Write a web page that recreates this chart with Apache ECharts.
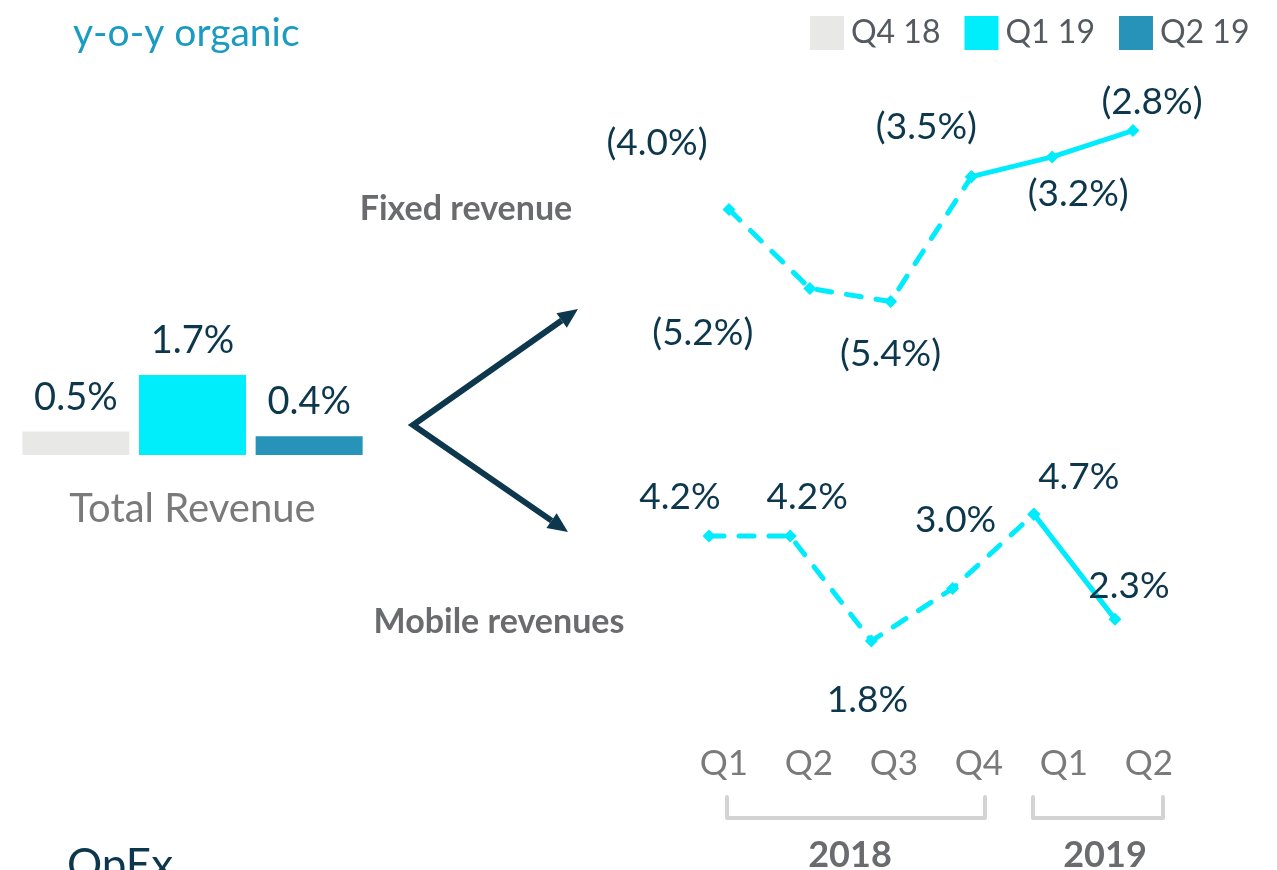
<!DOCTYPE html>
<html>
<head>
<meta charset="utf-8">
<title>y-o-y organic revenue</title>
<script src="https://cdn.jsdelivr.net/npm/echarts@6/dist/echarts.min.js"></script>
<style>
  html, body { margin: 0; padding: 0; background: #fff; }
  #chart { width: 1277px; height: 870px; }
</style>
</head>
<body>
<div id="chart"></div>
<script>
// values
const quarters = ['Q1', 'Q2', 'Q3', 'Q4', 'Q1', 'Q2']
const totalCategories = ['Total Revenue']
const totalSeriesNames = ['Q4 18', 'Q1 19', 'Q2 19']
const totalValues = [0.5, 1.7, 0.4]
const fixedValues = [-4.0, -5.2, -5.4, -3.5, -3.2, -2.8]
const mobileValues = [4.2, 4.2, 1.8, 3.0, 4.7, 2.3]

// first index drawn as a solid (reported) line
const fixedSolidFrom = 3
const mobileSolidFrom = 4

// label placement around each point, [dx, dy] in px
const fixedLabelOffsets = [[-72, -66], [-107, 45], [0, 53], [-45, -50], [26, 37], [19, -29]]
const mobileLabelOffsets = [[-29, -39], [17, -39], [-4, 59], [3, -68], [45, -37], [14, -33]]

const NAVY = '#0c374c'
const CYAN = '#00ebfb'
const GREY_TXT = '#6a6b6e'
const BAR_COLORS = ['#e8e8e7', '#00eefc', '#2793b9']
const FONT = 'Lato'

function pct(v) {
  const s = Math.abs(v).toFixed(1) + '%'
  return v < 0 ? '(' + s + ')' : s
}

function splitLine(values, solidFrom, offsets, gridIndex) {
  const labelOf = (i) => ({
    show: true,
    position: 'inside',
    offset: offsets[i],
    formatter: () => pct(values[i]),
    color: NAVY,
    fontSize: 37,
    fontFamily: FONT
  })
  const base = {
    type: 'line',
    xAxisIndex: gridIndex,
    yAxisIndex: gridIndex,
    symbol: 'diamond',
    symbolSize: 13,
    itemStyle: { color: CYAN },
    silent: true,
    animation: false,
    z: 3
  }
  const dashed = Object.assign({}, base, {
    data: values.map((v, i) => i <= solidFrom ? { value: v, label: labelOf(i) } : '-'),
    lineStyle: { color: CYAN, width: 5, type: [15, 15], cap: 'round' }
  })
  const solid = Object.assign({}, base, {
    data: values.map((v, i) => i > solidFrom ? { value: v, label: labelOf(i) } : (i === solidFrom ? v : '-')),
    lineStyle: { color: CYAN, width: 5, cap: 'round' }
  })
  return [dashed, solid]
}

function arrowHead(from, tip, len, half) {
  const dx = tip[0] - from[0], dy = tip[1] - from[1]
  const l = Math.sqrt(dx * dx + dy * dy)
  const ux = dx / l, uy = dy / l
  const bx = tip[0] - ux * len, by = tip[1] - uy * len
  return {
    base: [bx, by],
    points: [tip, [bx - uy * half, by + ux * half], [bx + uy * half, by - ux * half]]
  }
}

function bracket(x1, x2, yTop, yBottom) {
  return {
    type: 'polyline',
    shape: { points: [[x1, yTop], [x1, yBottom], [x2, yBottom], [x2, yTop]] },
    style: { stroke: '#d3d3d3', lineWidth: 4, fill: null, lineJoin: 'round', lineCap: 'round' },
    silent: true
  }
}

const chart = echarts.init(document.getElementById('chart'), null, { renderer: 'canvas' })

const origin = [413, 425]
const upTip = [578, 309]
const downTip = [568, 532]
const upHead = arrowHead(origin, upTip, 20, 9)
const downHead = arrowHead(origin, downTip, 20, 9)

const barSeries = totalSeriesNames.map((name, i) => ({
  type: 'bar',
  name: name,
  xAxisIndex: 0,
  yAxisIndex: 0,
  data: [totalValues[i]],
  barWidth: 107,
  barGap: '9%',
  itemStyle: { color: BAR_COLORS[i] },
  label: {
    show: true,
    position: 'top',
    distance: 15,
    formatter: (p) => pct(p.value),
    color: NAVY,
    fontSize: 38,
    fontFamily: FONT
  },
  silent: true,
  animation: false
}))

const hiddenY = (min, max, gridIndex) => ({
  type: 'value', gridIndex: gridIndex, min: min, max: max,
  show: false, splitLine: { show: false }
})

const hiddenX = (gridIndex) => ({
  type: 'category', gridIndex: gridIndex, data: quarters, boundaryGap: false, show: false
})

const option = {
  backgroundColor: '#ffffff',
  textStyle: { fontFamily: FONT },
  title: {
    text: 'y-o-y organic',
    left: 68,
    top: 9,
    textStyle: { color: '#1a9bc2', fontSize: 39, fontWeight: 'normal', fontFamily: FONT }
  },
  legend: {
    data: totalSeriesNames,
    left: 805,
    top: 11,
    icon: 'rect',
    itemWidth: 34,
    itemHeight: 34,
    itemGap: 24,
    textStyle: { color: '#545a60', fontSize: 32, fontFamily: FONT, padding: [0, 0, 0, 2] },
    selectedMode: false
  },
  grid: [
    { left: 19, width: 347, top: 361, height: 94 },   // total revenue bars
    { left: 729, width: 404, top: 78, height: 263 },  // fixed
    { left: 709, width: 406, top: 501, height: 175 }, // mobile
    { left: 724, width: 425, top: 700, height: 40 }   // quarter labels
  ],
  xAxis: [
    {
      type: 'category', gridIndex: 0, data: totalCategories,
      axisLine: { show: false }, axisTick: { show: false },
      axisLabel: { color: '#7a7a7a', fontSize: 40, fontFamily: FONT, margin: 34 }
    },
    hiddenX(1),
    hiddenX(2),
    {
      type: 'category', gridIndex: 3, data: quarters, boundaryGap: false,
      axisLine: { show: false }, axisTick: { show: false },
      axisLabel: { color: '#7a7a7a', fontSize: 35, fontFamily: FONT, margin: 6 }
    }
  ],
  yAxis: [
    hiddenY(0, 2, 0),
    hiddenY(-6, -2, 1),
    hiddenY(1, 5, 2),
    hiddenY(0, 1, 3)
  ],
  series: [
    ...barSeries,
    ...splitLine(fixedValues, fixedSolidFrom, fixedLabelOffsets, 1),
    ...splitLine(mobileValues, mobileSolidFrom, mobileLabelOffsets, 2)
  ],
  graphic: [
    {
      type: 'polyline',
      shape: { points: [upHead.base, origin, downHead.base] },
      style: { stroke: NAVY, lineWidth: 6, fill: null, lineJoin: 'miter' },
      silent: true
    },
    { type: 'polygon', shape: { points: upHead.points }, style: { fill: NAVY }, silent: true },
    { type: 'polygon', shape: { points: downHead.points }, style: { fill: NAVY }, silent: true },
    {
      type: 'text', x: 466, y: 209,
      style: { text: 'Fixed revenue', fill: GREY_TXT, font: 'bold 34px Lato', align: 'center', verticalAlign: 'middle' },
      silent: true
    },
    {
      type: 'text', x: 499, y: 622,
      style: { text: 'Mobile revenues', fill: GREY_TXT, font: 'bold 34px Lato', align: 'center', verticalAlign: 'middle' },
      silent: true
    },
    bracket(727, 985, 797, 818),
    bracket(1033, 1163, 797, 818),
    {
      type: 'text', x: 850, y: 855,
      style: { text: '2018', fill: GREY_TXT, font: 'bold 36px Lato', align: 'center', verticalAlign: 'middle' },
      silent: true
    },
    {
      type: 'text', x: 1105, y: 855,
      style: { text: '2019', fill: GREY_TXT, font: 'bold 36px Lato', align: 'center', verticalAlign: 'middle' },
      silent: true
    },
    {
      type: 'text', x: 67, y: 844,
      style: { text: 'OpEx', fill: NAVY, font: '44px Lato', align: 'left', verticalAlign: 'top' },
      silent: true
    }
  ]
}

chart.setOption(option)
</script>
</body>
</html>
